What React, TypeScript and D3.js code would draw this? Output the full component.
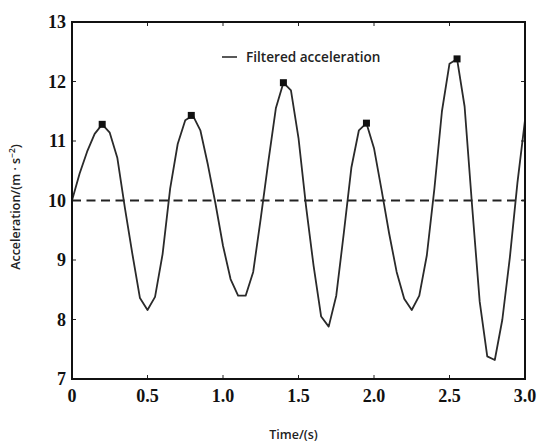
import React from "react";
import * as d3 from "d3";

const times = [
  0.0, 0.05, 0.1, 0.15, 0.2, 0.25, 0.3, 0.35, 0.4, 0.45, 0.5, 0.55, 0.6, 0.65, 0.7, 0.75, 0.8, 0.85, 0.9, 0.95,
  1.0, 1.05, 1.1, 1.15, 1.2, 1.25, 1.3, 1.35, 1.4, 1.45, 1.5, 1.55, 1.6, 1.65, 1.7, 1.75, 1.8, 1.85, 1.9, 1.95,
  2.0, 2.05, 2.1, 2.15, 2.2, 2.25, 2.3, 2.35, 2.4, 2.45, 2.5, 2.55, 2.6, 2.65, 2.7, 2.75, 2.8, 2.85, 2.9, 2.95, 3.0,
];
const accel = [
  10.0, 10.45, 10.82, 11.12, 11.28, 11.14, 10.72, 9.88, 9.1, 8.36, 8.16, 8.38, 9.1, 10.2, 10.95, 11.35, 11.43, 11.18, 10.6, 9.95,
  9.24, 8.68, 8.4, 8.4, 8.8, 9.7, 10.65, 11.55, 11.98, 11.85, 11.05, 9.9, 8.9, 8.05, 7.88, 8.4, 9.45, 10.55, 11.18, 11.3,
  10.88, 10.18, 9.45, 8.8, 8.35, 8.16, 8.4, 9.08, 10.2, 11.5, 12.3, 12.38, 11.58, 9.9, 8.3, 7.38, 7.32, 8.0, 9.05, 10.3, 11.35,
];
const peakTimes = [0.2, 0.79, 1.4, 1.95, 2.55];
const peakValues = [11.28, 11.43, 11.98, 11.3, 12.38];
const referenceLevel = 10;
const xTicks = [0, 0.5, 1.0, 1.5, 2.0, 2.5, 3.0];
const xTickLabels = ["0", "0.5", "1.0", "1.5", "2.0", "2.5", "3.0"];
const yTicks = [7, 8, 9, 10, 11, 12, 13];
const legendLabel = "Filtered acceleration";
const xTitle = "Time/(s)";

export default function App() {
  const W = 542;
  const H = 442;
  const left = 72;
  const right = 525;
  const top = 22;
  const bottom = 379;
  const x = d3.scaleLinear().domain([0, 3]).range([left, right]);
  const y = d3.scaleLinear().domain([7, 13]).range([bottom, top]);
  const pts = times.map((t, i) => [t, accel[i]] as [number, number]);
  const line = d3
    .line<[number, number]>()
    .x((d) => x(d[0]))
    .y((d) => y(d[1]));
  const tickLen = 4;
  const sans = "'Open Sans', 'DejaVu Sans', sans-serif";
  const serif = "'Liberation Serif', 'Times New Roman', serif";
  return (
    <svg
      width={W}
      height={H}
      style={{ position: "absolute", left: 0, top: 0, background: "#fff" }}
    >
      <rect x={0} y={0} width={W} height={H} fill="#fff" />
      <line
        x1={x(0)}
        x2={x(3)}
        y1={y(referenceLevel)}
        y2={y(referenceLevel)}
        stroke="#222"
        strokeWidth={2}
        strokeDasharray="9,5.5"
      />
      <path d={line(pts) || ""} fill="none" stroke="#2a2a2a" strokeWidth={1.8} strokeLinejoin="round" />
      {peakTimes.map((t, i) => (
        <rect
          key={"pk" + i}
          x={x(t) - 3.5}
          y={y(peakValues[i]) - 3.5}
          width={7}
          height={7}
          fill="#111"
        />
      ))}
      {xTicks.map((t, i) => (
        <g key={"xt" + i}>
          <line x1={x(t)} x2={x(t)} y1={bottom} y2={bottom - tickLen} stroke="#222" strokeWidth={1} />
          <line x1={x(t)} x2={x(t)} y1={top} y2={top + tickLen} stroke="#222" strokeWidth={1} />
          <text
            x={x(t)}
            y={bottom + 23}
            textAnchor="middle"
            fontFamily={serif}
            fontWeight="bold"
            fontSize={18}
            fill="#111"
          >
            {xTickLabels[i]}
          </text>
        </g>
      ))}
      {yTicks.map((v, i) => (
        <g key={"yt" + i}>
          <line x1={left} x2={left + tickLen} y1={y(v)} y2={y(v)} stroke="#222" strokeWidth={1} />
          <line x1={right} x2={right - tickLen} y1={y(v)} y2={y(v)} stroke="#222" strokeWidth={1} />
          <text
            x={left - 6}
            y={y(v)}
            dy="0.34em"
            textAnchor="end"
            fontFamily={serif}
            fontWeight="bold"
            fontSize={18}
            fill="#111"
          >
            {v}
          </text>
        </g>
      ))}
      <rect x={left} y={top} width={right - left} height={bottom - top} fill="none" stroke="#111" strokeWidth={2} />
      <line x1={222} x2={237} y1={57} y2={57} stroke="#222" strokeWidth={1.5} />
      <text x={246} y={62} fontFamily={sans} fontWeight={600} fontSize={13.6} fill="#222">
        {legendLabel}
      </text>
      <text
        x={293.5}
        y={439}
        textAnchor="middle"
        fontFamily={sans}
        fontWeight={600}
        fontSize={12.5}
        fill="#222"
      >
        {xTitle}
      </text>
      <text
        transform={`translate(20, 207) rotate(-90)`}
        textAnchor="middle"
        fontFamily={sans}
        fontWeight={600}
        fontSize={12.5}
        fill="#222"
      >
        Acceleration/(m · s
        <tspan fontSize={8.5} dy={-5}>−2</tspan>
        <tspan dy={5}>)</tspan>
      </text>
    </svg>
  );
}
